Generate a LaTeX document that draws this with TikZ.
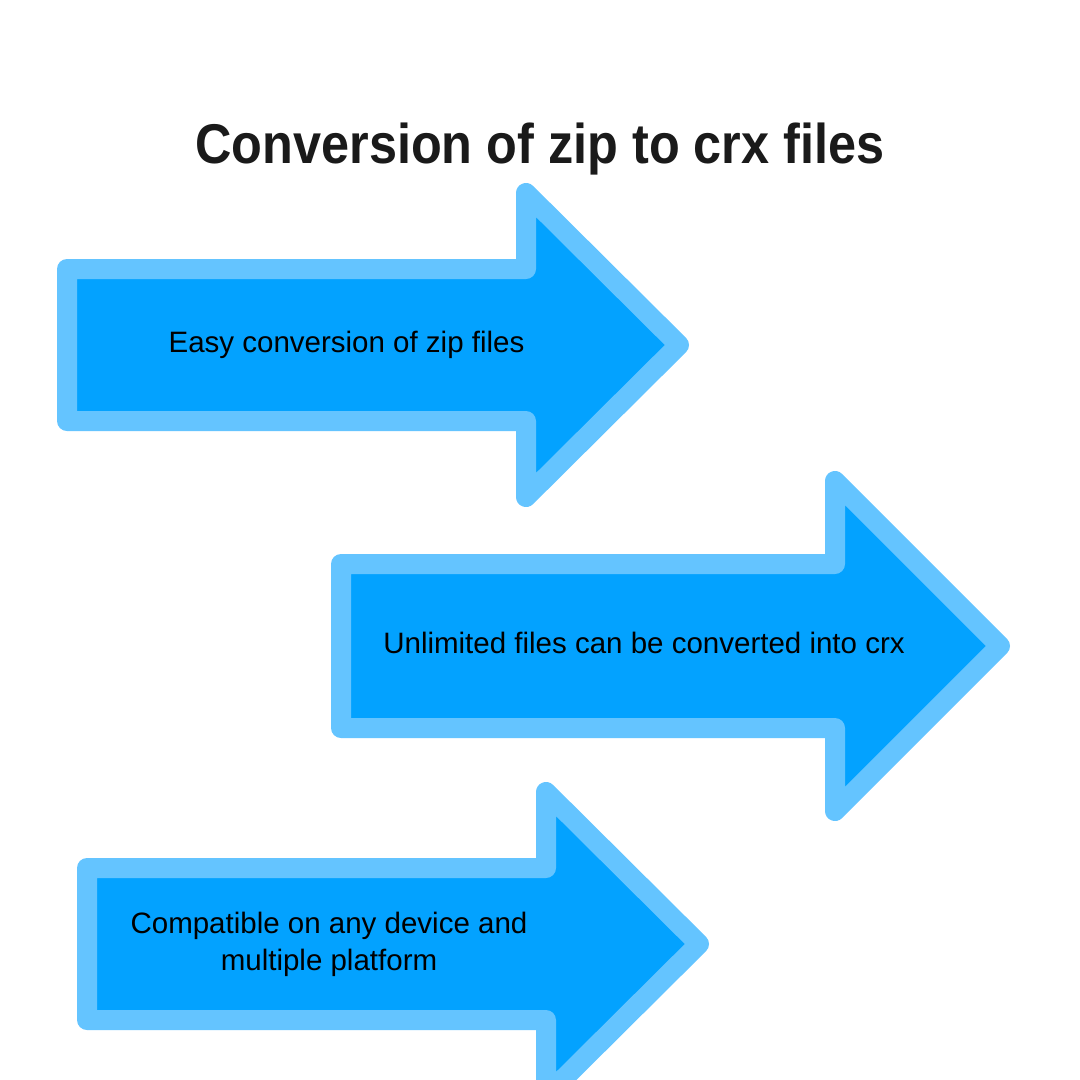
\documentclass[tikz,border=0pt]{standalone}
\usepackage{fontspec}
\setmainfont{Liberation Sans}
\newfontfamily\titlefont[FakeStretch=0.9]{Liberation Sans}
\definecolor{arrfill}{HTML}{03A2FF}
\definecolor{arrline}{HTML}{64C4FF}
\definecolor{titlecol}{HTML}{1A1A1A}
\begin{document}
\begin{tikzpicture}[x=1pt,y=-1pt,
  bigarrow/.style={fill=arrfill,draw=arrline,line width=20pt,line join=round},
  lbl/.style={align=center,text=black,font=\fontsize{29.5}{36.7}\selectfont,inner sep=0pt},
  ttl/.style={text=titlecol,font=\titlefont\fontsize{56}{64}\selectfont\bfseries,inner sep=0pt}]
\useasboundingbox[fill=white] (0,0) rectangle (1080,1080);
\node[ttl,anchor=base] (title) at (540,163) {Conversion of zip to crx files};
\draw[bigarrow] (67,269) -- (526,269) -- (526,193) -- (679,345) -- (526,497) -- (526,421) -- (67,421) -- cycle;
\draw[bigarrow] (341,564) -- (835,564) -- (835,481) -- (1000,646) -- (835,811) -- (835,728) -- (341,728) -- cycle;
\draw[bigarrow] (87,868) -- (546,868) -- (546,792) -- (699,944) -- (546,1096) -- (546,1020) -- (87,1020) -- cycle;
\node[lbl,anchor=base] (t1) at (346.5,352.7) {Easy conversion of zip files};
\node[lbl,anchor=base] (t2) at (644,653.3) {Unlimited files can be converted into crx};
\node[lbl,anchor=base] (t3) at (329,970) {Compatible on any device and\\multiple platform};
\end{tikzpicture}
\end{document}
